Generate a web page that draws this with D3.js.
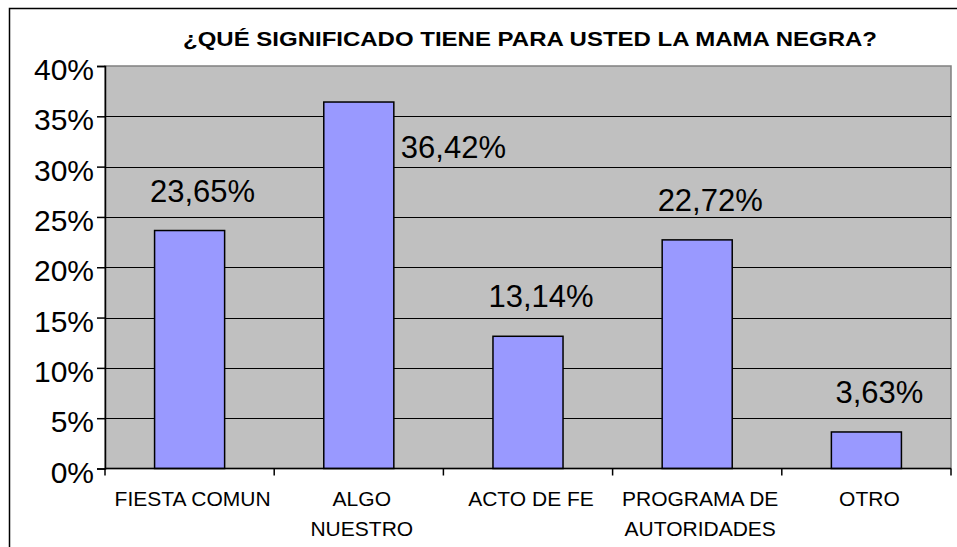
<!DOCTYPE html>
<html>
<head>
<meta charset="utf-8">
<script src="https://cdn.jsdelivr.net/npm/d3@7"></script>
<style>
  body { margin: 0; background: #fff; }
  svg text { font-family: Arial, "Liberation Sans", sans-serif; fill: #000; }
</style>
</head>
<body>
<svg id="chart_svg" width="957" height="547"></svg>
<script>
var categories = [["FIESTA COMUN"], ["ALGO", "NUESTRO"], ["ACTO DE FE"], ["PROGRAMA DE", "AUTORIDADES"], ["OTRO"]];
var values = [23.65, 36.42, 13.14, 22.72, 3.63];
var yTicks = [0, 5, 10, 15, 20, 25, 30, 35, 40];
var title = "¿QUÉ SIGNIFICADO TIENE PARA USTED LA MAMA NEGRA?";

var svg = d3.select('#chart_svg');
var plot = { left: 105, top: 66, right: 951, bottom: 468.5 };

// outer frame (cut off on the right and bottom)
svg.append("path")
  .attr("d", "M9.5,547V8.5H957")
  .attr("fill", "none")
  .attr("stroke", "#000")
  .attr("stroke-width", 1.5);

svg.append("text")
  .attr("x", 530)
  .attr("y", 46)
  .attr("text-anchor", "middle")
  .attr("textLength", 694)
  .attr("lengthAdjust", "spacingAndGlyphs")
  .style("font-size", "20.5px")
  .style("font-weight", "bold")
  .text(title);

var x = d3.scaleBand()
  .domain(d3.range(categories.length))
  .range([plot.left, plot.right])
  .paddingInner(0.586)
  .paddingOuter(0.293);

var y = d3.scaleLinear().domain([0, 40]).range([plot.bottom, plot.top]);

// plot background
svg.append("rect")
  .attr("x", plot.left)
  .attr("y", plot.top)
  .attr("width", plot.right - plot.left)
  .attr("height", plot.bottom - plot.top)
  .attr("fill", "#c0c0c0")
  .attr("stroke", "#808080")
  .attr("stroke-width", 1.5);

// gridlines
svg.selectAll(".grid")
  .data(yTicks.filter(d => d > 0 && d < 40))
  .enter()
  .append("line")
  .attr("x1", plot.left)
  .attr("x2", plot.right)
  .attr("y1", d => Math.round(y(d)) + 0.5)
  .attr("y2", d => Math.round(y(d)) + 0.5)
  .attr("stroke", "#000")
  .attr("stroke-width", 1);

// bars
svg.selectAll(".bar")
  .data(values)
  .enter()
  .append("rect")
  .attr("x", (d, i) => x(i))
  .attr("y", d => y(d))
  .attr("width", x.bandwidth())
  .attr("height", d => plot.bottom - y(d))
  .attr("fill", "#9999ff")
  .attr("stroke", "#000")
  .attr("stroke-width", 1.5);

// value labels (the tallest one moves beside its bar)
var outside = d => y(d) - 52 < plot.top;
svg.selectAll(".label")
  .data(values)
  .enter()
  .append("text")
  .attr("x", (d, i) => outside(d) ? x(i) + x.bandwidth() + 7 : x(i) + x.bandwidth() / 2 + 13)
  .attr("y", d => outside(d) ? y(d) + 56 : y(d) - 29)
  .attr("text-anchor", d => outside(d) ? "start" : "middle")
  .style("font-size", "31px")
  .text(d => d.toFixed(2).replace(".", ",") + "%");

// y axis
var yAxis = svg.append("g")
  .attr("transform", "translate(" + plot.left + ",0)")
  .call(d3.axisLeft(y).tickValues(yTicks).tickSize(8).tickPadding(3).tickFormat(d => d + "%"));
yAxis.select(".domain").attr("stroke", "#000").attr("stroke-width", 1.5);
yAxis.selectAll(".tick line").attr("stroke", "#000").attr("stroke-width", 1.5);
yAxis.selectAll(".tick text")
  .attr("dy", "0.45em")
  .style("font-size", "30px")
  .style("font-family", "Arial, 'Liberation Sans', sans-serif")
  .attr("fill", "#000");

// x axis
var xAxis = svg.append("g")
  .attr("transform", "translate(0," + plot.bottom + ")");
xAxis.append("line")
  .attr("x1", plot.left)
  .attr("x2", plot.right)
  .attr("stroke", "#000")
  .attr("stroke-width", 1.5);
xAxis.selectAll(".xtick")
  .data(d3.range(categories.length + 1))
  .enter()
  .append("line")
  .attr("x1", i => i < categories.length ? x(i) - x.step() * x.paddingInner() / 2 : plot.right)
  .attr("x2", i => i < categories.length ? x(i) - x.step() * x.paddingInner() / 2 : plot.right)
  .attr("y1", 0)
  .attr("y2", 7)
  .attr("stroke", "#000")
  .attr("stroke-width", 1.5);

var catText = xAxis.selectAll(".cat")
  .data(categories)
  .enter()
  .append("text")
  .attr("text-anchor", "middle")
  .style("font-size", "21px");
catText.selectAll("tspan")
  .data((d, i) => d.map(t => ({ t: t, i: i })))
  .enter()
  .append("tspan")
  .attr("x", d => x(d.i) + x.bandwidth() / 2 + 3)
  .attr("y", (d, j) => 37.5 + j * 29.5)
  .text(d => d.t);
</script>
</body>
</html>
